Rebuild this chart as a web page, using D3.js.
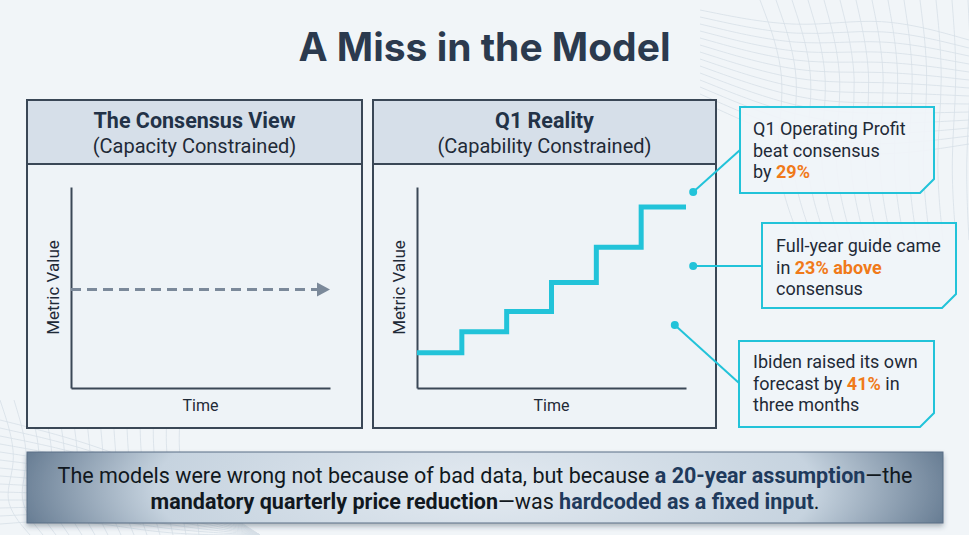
<!DOCTYPE html>
<meta charset="utf-8">
<script src="https://d3js.org/d3.v7.min.js"></script>
<style>
  body { margin: 0; background: #f1f5f8; }
  svg { display: block; font-family: Roboto, "Noto Sans", sans-serif; }
</style>
<div id="chart"></div>
<script>
    // values
    const timeDomain = [0, 6];          // quarters
    const valueDomain = [0, 10];        // metric value (no units shown)
    const consensusLevel = 4.9;         // flat, dashed assumption
    const realitySteps = [1.75, 2.8, 3.8, 5.25, 7.0, 9.0];   // one level per quarter
    const panelTitles = ["The Consensus View", "Q1 Reality"];
    const panelSubtitles = ["(Capacity Constrained)", "(Capability Constrained)"];
    const calloutAnchors = [[6.16, 9.75], [6.16, 6.07], [5.75, 3.13]];
    const calloutLines = [
        [[["Q1 Operating Profit", 0]], [["beat consensus", 0]], [["by ", 0], ["29%", 1]]],
        [[["Full-year guide came", 0]], [["in ", 0], ["23% above", 1]], [["consensus", 0]]],
        [[["Ibiden raised its own", 0]], [["forecast by ", 0], ["41%", 1], [" in", 0]], [["three months", 0]]]
    ];
    const bannerLines = [
        [["The models were wrong not because of bad data, but because ", 0], ["a 20-year assumption", 2], ["\u2014the", 0]],
        [["mandatory quarterly price reduction", 1], ["\u2014was ", 0], ["hardcoded as a fixed input", 2], [".", 0]]
    ];

    const W = 969, H = 535;
    const ink = "#1f2a37", axisInk = "#3a4756", cyan = "#22c3d9", orange = "#f07a1a";

    const svg = d3.select("#chart").append("svg")
        .attr("width", W).attr("height", H);

    const defs = svg.append("defs");
    const bg = defs.append("radialGradient").attr("id", "banner")
        .attr("cx", "50%").attr("cy", "50%").attr("r", "58%")
        .attr("gradientTransform", "translate(0.5,0.5) scale(1,4) translate(-0.5,-0.5)");
    bg.append("stop").attr("offset", "0%").attr("stop-color", "#e3eaf1");
    bg.append("stop").attr("offset", "62%").attr("stop-color", "#c6d3df");
    bg.append("stop").attr("offset", "100%").attr("stop-color", "#3f5873");
    const sh = defs.append("filter").attr("id", "shadow").attr("x", "-5%").attr("y", "-20%").attr("width", "110%").attr("height", "150%");
    sh.append("feDropShadow").attr("dx", 0).attr("dy", 3).attr("stdDeviation", 2.5)
        .attr("flood-color", "#2b3a4e").attr("flood-opacity", 0.35);

    // background
    svg.append("rect").attr("width", W).attr("height", H).attr("fill", "#f1f5f8");

    // faint mesh in corners
    const mesh = svg.append("g").attr("fill", "none").attr("stroke", "#d7dfe7").attr("stroke-width", 0.8);
    const wave = d3.line().curve(d3.curveBasis);
    for (let i = 0; i < 14; i++) {
        mesh.append("path").attr("d", wave([[700, 10 + i * 7], [800, 30 + i * 9], [880, 15 + i * 11], [969, 40 + i * 8]]));
        mesh.append("path").attr("d", wave([[760 + i * 16, 0], [790 + i * 14, 80], [770 + i * 15, 160], [800 + i * 13, 240]]));
        mesh.append("path").attr("d", wave([[0, 420 + i * 8], [80, 440 + i * 6], [160, 470 + i * 5], [260, 535]]));
        mesh.append("path").attr("d", wave([[i * 14, 400], [20 + i * 12, 460], [i * 15, 500], [30 + i * 13, 535]]));
    }

    // title
    svg.append("text").attr("x", W / 2).attr("y", 61)
        .attr("text-anchor", "middle")
        .style("font-family", "Inter, Roboto, sans-serif")
        .style("font-weight", 700).style("font-size", "39px")
        .attr("fill", "#2b3a4e").text("A Miss in the Model");

    // panels
    const panels = [
        { x: 27, w: 335, ax: 71, ay0: 388, ay1: 187, axEnd: 330 },
        { x: 373, w: 343, ax: 417, ay0: 388, ay1: 187, axEnd: 686 }
    ];
    const panelTop = 100, headH = 64, panelH = 328;

    panels.forEach((p, i) => {
        const g = svg.append("g");
        g.append("rect").attr("x", p.x).attr("y", panelTop).attr("width", p.w).attr("height", panelH)
            .attr("fill", "#eef3f7").attr("stroke", axisInk).attr("stroke-width", 2);
        g.append("rect").attr("x", p.x).attr("y", panelTop).attr("width", p.w).attr("height", headH)
            .attr("fill", "#d6dfe9").attr("stroke", axisInk).attr("stroke-width", 2);
        const cx = p.x + p.w / 2;
        g.append("text").attr("x", cx).attr("y", panelTop + 28).attr("text-anchor", "middle")
            .style("font-weight", 700).style("font-size", "21.5px").attr("fill", "#223247")
            .text(panelTitles[i]);
        g.append("text").attr("x", cx).attr("y", panelTop + 53).attr("text-anchor", "middle")
            .style("font-size", "20px").attr("fill", ink)
            .text(panelSubtitles[i]);

        p.xs = d3.scaleLinear().domain(timeDomain).range([p.ax, p.axEnd]);
        p.ys = d3.scaleLinear().domain(valueDomain).range([p.ay0, p.ay1]);

        const xAxis = g.append("g").attr("transform", `translate(0,${p.ay0})`)
            .call(d3.axisBottom(p.xs).tickValues([]).tickSizeOuter(0));
        const yAxis = g.append("g").attr("transform", `translate(${p.ax},0)`)
            .call(d3.axisLeft(p.ys).tickValues([]).tickSizeOuter(0));
        [xAxis, yAxis].forEach(a => a.select(".domain").attr("stroke", axisInk).attr("stroke-width", 2));

        g.append("text").attr("x", (p.ax + p.axEnd) / 2).attr("y", 411).attr("text-anchor", "middle")
            .style("font-size", "16px").attr("fill", ink).text("Time");
        g.append("text").attr("transform", `translate(${p.ax - 12},${(p.ay0 + p.ay1) / 2}) rotate(-90)`)
            .attr("text-anchor", "middle")
            .style("font-size", "17px").attr("fill", ink).text("Metric Value");
    });

    // consensus: flat dashed arrow
    const L = panels[0];
    const yC = L.ys(consensusLevel);
    svg.append("line")
        .attr("x1", L.xs(0)).attr("x2", L.xs(timeDomain[1]) - 12)
        .attr("y1", yC).attr("y2", yC)
        .attr("stroke", "#7b899a").attr("stroke-width", 3).attr("stroke-dasharray", "10,6");
    const tipX = L.xs(timeDomain[1]);
    svg.append("path")
        .attr("d", `M${tipX},${yC} L${tipX - 13},${yC - 7} L${tipX - 13},${yC + 7} Z`)
        .attr("fill", "#7b899a");

    // reality: step line
    const R = panels[1];
    const stepPts = realitySteps.map((v, i) => [i, v]).concat([[realitySteps.length, realitySteps[realitySteps.length - 1]]]);
    svg.append("path")
        .attr("d", d3.line().x(d => R.xs(d[0])).y(d => R.ys(d[1])).curve(d3.curveStepAfter)(stepPts))
        .attr("fill", "none").attr("stroke", cyan).attr("stroke-width", 5);

    // callouts
    const boxes = [
        { x: 740, y: 107, w: 194, h: 86, tx: 753, ty: 135, join: [740, 150] },
        { x: 762, y: 223, w: 194, h: 85, tx: 776, ty: 252, join: [762, 266] },
        { x: 739, y: 341, w: 195, h: 86, tx: 753, ty: 368, join: [739, 383] }
    ];
    const cut = 14;
    boxes.forEach((b, i) => {
        const a = calloutAnchors[i];
        const ax = R.xs(a[0]), ay = R.ys(a[1]);
        svg.append("line").attr("x1", ax).attr("y1", ay).attr("x2", b.join[0]).attr("y2", b.join[1])
            .attr("stroke", cyan).attr("stroke-width", 2);
        svg.append("circle").attr("cx", ax).attr("cy", ay).attr("r", 4).attr("fill", cyan);
        svg.append("path")
            .attr("d", `M${b.x},${b.y} H${b.x + b.w} V${b.y + b.h - cut} L${b.x + b.w - cut},${b.y + b.h} H${b.x} Z`)
            .attr("fill", "#f0f4f8").attr("fill-opacity", 0.92)
            .attr("stroke", cyan).attr("stroke-width", 2);
        const t = svg.append("text").style("font-size", "18px").attr("fill", ink);
        calloutLines[i].forEach((line, j) => {
            line.forEach((seg, k) => {
                const ts = t.append("tspan").text(seg[0]);
                if (k === 0) ts.attr("x", b.tx).attr("y", b.ty + j * 21.5);
                if (seg[1]) ts.attr("fill", orange).style("font-weight", 700);
            });
        });
    });

    // bottom banner
    svg.append("rect").attr("x", 27).attr("y", 452).attr("width", 916).attr("height", 71)
        .attr("fill", "url(#banner)").attr("stroke", "#5b6f86").attr("stroke-width", 1)
        .attr("filter", "url(#shadow)");
    const bt = svg.append("text").attr("text-anchor", "middle")
        .style("font-size", "21.5px").attr("fill", "#111820");
    bannerLines.forEach((line, j) => {
        line.forEach((seg, k) => {
            const ts = bt.append("tspan").text(seg[0]);
            if (k === 0) ts.attr("x", 485).attr("y", 483 + j * 26);
            if (seg[1] === 1) ts.style("font-weight", 700).attr("fill", "#111820");
            if (seg[1] === 2) ts.style("font-weight", 700).attr("fill", "#1f3a5c");
        });
    });
</script>
